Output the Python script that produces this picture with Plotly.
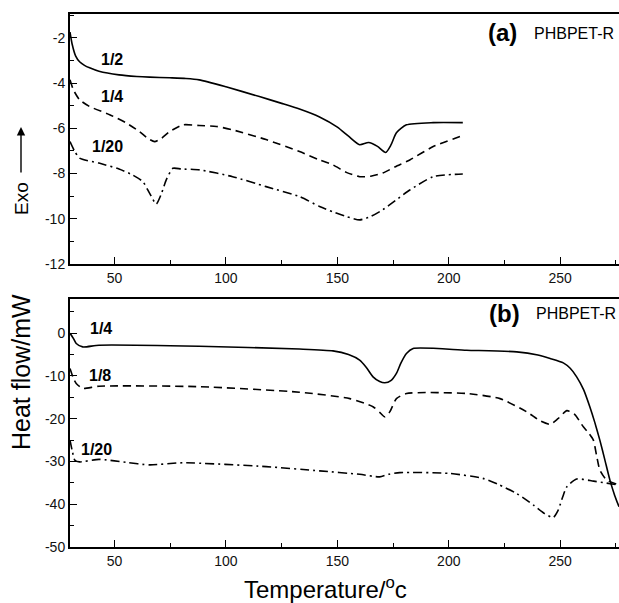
import plotly.graph_objects as go

# ---------------- data: panel (a) ----------------
a_x_12 = [30, 31, 32.5, 34.3, 36.5, 38.8, 43, 52, 60, 65.7, 74.7, 82, 88, 100, 115, 125, 133, 142, 150, 155, 160, 164, 168, 171.7, 174, 176.5, 181, 193, 206.3]
a_y_12 = [-1.75, -2.3, -2.8, -3.06, -3.22, -3.33, -3.48, -3.64, -3.71, -3.74, -3.77, -3.8, -3.86, -4.17, -4.6, -4.9, -5.15, -5.5, -5.95, -6.35, -6.73, -6.63, -6.8, -7.07, -6.75, -6.2, -5.85, -5.75, -5.75]
a_x_14 = [30, 31.5, 34.3, 38.8, 47.8, 55, 61.2, 65, 68, 71, 74.7, 80.7, 88, 95.7, 103, 118, 133, 142, 148, 154, 160, 165, 170.4, 176, 182.5, 193, 206.3]
a_y_14 = [-3.86, -4.3, -4.74, -5.04, -5.4, -5.75, -6.15, -6.45, -6.59, -6.45, -6.15, -5.85, -5.88, -5.92, -6.07, -6.5, -7.03, -7.4, -7.62, -7.95, -8.14, -8.12, -7.98, -7.7, -7.4, -6.81, -6.32]
a_x_120 = [30, 32, 34.3, 43, 52, 58, 62.7, 65.7, 68.7, 71, 73.2, 76.2, 80, 88.2, 103, 118, 133, 142, 148, 154, 160, 165, 170.4, 176, 182.5, 193, 206.3]
a_y_120 = [-6.59, -7.0, -7.32, -7.54, -7.8, -8.06, -8.36, -8.87, -9.35, -8.9, -8.28, -7.77, -7.8, -7.84, -8.14, -8.58, -9.02, -9.46, -9.69, -9.9, -10.05, -9.9, -9.6, -9.2, -8.73, -8.14, -8.02]

# ---------------- data: panel (b) ----------------
b_x_14 = [30, 31.5, 32.8, 35.7, 43, 88, 133, 148, 155, 160, 163, 166, 169, 171.3, 174, 176.5, 178.5, 181, 184, 208, 230.5, 240, 245.5, 251.4, 254.5, 257.4, 260.5, 263.3, 265.5, 267.8, 270, 272.3, 274.5, 276.4]
b_y_14 = [0, -1.2, -2.4, -3.2, -2.8, -3.04, -3.7, -4.13, -5.0, -6.3, -8.0, -10.2, -11.3, -11.6, -11.1, -9.4, -7.0, -4.75, -3.58, -3.97, -4.36, -5.1, -5.9, -6.93, -8.2, -10.2, -13.2, -17.2, -20.8, -25, -29.5, -34.3, -38, -40.6]
b_x_18 = [30, 31.5, 32.8, 35.7, 43, 88, 133, 155.6, 166, 169, 171.3, 173.5, 176.5, 181, 208, 223, 235, 241, 245.5, 249, 253, 256.5, 260.4, 263, 264.9, 266.3, 267.8, 270.8, 276.4]
b_y_18 = [-8.25, -10.5, -11.75, -12.9, -12.4, -12.5, -13.8, -15.3, -17.2, -18.5, -19.55, -18.4, -15.3, -14.1, -14.1, -15.3, -18.4, -20.5, -21.3, -20.0, -18.1, -19.0, -21.9, -23.5, -25, -28.5, -32, -34.3, -35.5]
b_x_120 = [30, 31, 32.2, 34.3, 43, 55, 65.7, 80.7, 118, 142, 160, 169, 173, 178, 200.5, 215.3, 222, 230.5, 238, 243, 246.9, 249, 251, 253, 257.4, 265, 270, 276.4]
b_y_120 = [-25, -27.5, -29.7, -30.1, -29.5, -30.2, -30.8, -30.3, -31.2, -32.2, -33.0, -33.6, -33.0, -32.6, -32.8, -33.95, -35.3, -37.5, -40.2, -42.2, -43.1, -41.5, -38.5, -35.9, -34.1, -34.6, -35.0, -35.5]

# ---------------- tick labels ----------------
x_ticks = [50, 100, 150, 200, 250]
x_tick_text = ["50", "100", "150", "200", "250"]
ya_ticks = [-12, -10, -8, -6, -4, -2]
ya_tick_text = ["-12", "-10", "-8", "-6", "-4", "-2"]
yb_ticks = [-50, -40, -30, -20, -10, 0]
yb_tick_text = ["-50", "-40", "-30", "-20", "-10", "0"]

font_family = "Liberation Sans, Arial, sans-serif"
LW = 1.6
DASH = "8px,5px"
DASHDOT = "9px,4px,2px,4px"

fig = go.Figure()
fig.add_trace(go.Scatter(x=a_x_12, y=a_y_12, mode="lines", line=dict(color="black", width=LW, shape="spline", smoothing=0.6), xaxis="x", yaxis="y", showlegend=False))
fig.add_trace(go.Scatter(x=a_x_14, y=a_y_14, mode="lines", line=dict(color="black", width=LW, dash=DASH, shape="spline", smoothing=0.6), xaxis="x", yaxis="y", showlegend=False))
fig.add_trace(go.Scatter(x=a_x_120, y=a_y_120, mode="lines", line=dict(color="black", width=LW, dash=DASHDOT, shape="spline", smoothing=0.6), xaxis="x", yaxis="y", showlegend=False))
fig.add_trace(go.Scatter(x=b_x_14, y=b_y_14, mode="lines", line=dict(color="black", width=LW, shape="spline", smoothing=0.6), xaxis="x2", yaxis="y2", showlegend=False))
fig.add_trace(go.Scatter(x=b_x_18, y=b_y_18, mode="lines", line=dict(color="black", width=LW, dash=DASH, shape="spline", smoothing=0.6), xaxis="x2", yaxis="y2", showlegend=False))
fig.add_trace(go.Scatter(x=b_x_120, y=b_y_120, mode="lines", line=dict(color="black", width=LW, dash=DASHDOT, shape="spline", smoothing=0.6), xaxis="x2", yaxis="y2", showlegend=False))

W, H = 619, 603
ML, MT, MB = 70, 14, 56
plot_h = H - MT - MB


def py(pix):
    return (H - MB - pix) / plot_h


def px(pix):
    return (pix - ML) / (W - ML)


xcommon = dict(range=[30, 276.4], tickvals=x_ticks, ticktext=x_tick_text, ticks="inside", ticklen=7, tickwidth=1.3,
               tickcolor="black", showline=True, linecolor="black", linewidth=2, mirror=True, showgrid=False,
               zeroline=False, tickfont=dict(size=14, color="#111", family=font_family),
               minor=dict(dtick=25, tick0=0, ticks="inside", ticklen=4, tickwidth=1.1, tickcolor="black"))
ycommon = dict(ticks="inside", ticklen=7, tickwidth=1.3, tickcolor="black", showline=True, linecolor="black",
               linewidth=2, mirror=False, showgrid=False, zeroline=False,
               tickfont=dict(size=14, color="#111", family=font_family))

fig.update_layout(
    width=W, height=H, plot_bgcolor="white", paper_bgcolor="white",
    margin=dict(l=ML, r=0, t=MT, b=MB, autoexpand=False),
    xaxis=dict(**xcommon, anchor="y", domain=[0, 1]),
    yaxis=dict(**ycommon, range=[-12, -0.95], tickvals=ya_ticks, ticktext=ya_tick_text,
               minor=dict(dtick=1, tick0=0, ticks="inside", ticklen=4, tickwidth=1.1, tickcolor="black"),
               domain=[py(264), 1], anchor="x"),
    xaxis2=dict(**xcommon, anchor="y2", domain=[0, 1]),
    yaxis2=dict(**ycommon, range=[-50, 8], tickvals=yb_ticks, ticktext=yb_tick_text,
                minor=dict(dtick=5, tick0=0, ticks="inside", ticklen=4, tickwidth=1.1, tickcolor="black"),
                domain=[0, py(299)], anchor="x2"),
)

bold = dict(size=16, color="black", family=font_family)
anns = [
    dict(x=48.7, y=-2.97, xref="x", yref="y", text="<b>1/2</b>", font=bold),
    dict(x=48.7, y=-4.61, xref="x", yref="y", text="<b>1/4</b>", font=bold),
    dict(x=46.9, y=-6.82, xref="x", yref="y", text="<b>1/20</b>", font=bold),
    dict(x=43.9, y=1.17, xref="x2", yref="y2", text="<b>1/4</b>", font=bold),
    dict(x=43.5, y=-10.0, xref="x2", yref="y2", text="<b>1/8</b>", font=bold),
    dict(x=41.9, y=-27.3, xref="x2", yref="y2", text="<b>1/20</b>", font=bold),
    dict(x=224.3, y=-1.78, xref="x", yref="y", text="<b>(a)</b>", font=dict(size=24, color="black", family=font_family)),
    dict(x=225.2, y=4.67, xref="x2", yref="y2", text="<b>(b)</b>", font=dict(size=24, color="black", family=font_family)),
    dict(x=px(532), y=py(33), xref="paper", yref="paper", xanchor="left", text="PHBPET-R",
         font=dict(size=16, color="black", family=font_family)),
    dict(x=px(534), y=py(313), xref="paper", yref="paper", xanchor="left", text="PHBPET-R",
         font=dict(size=16, color="black", family=font_family)),
    dict(x=px(325), y=py(588), xref="paper", yref="paper", text="Temperature/<sup>o</sup>c",
         font=dict(size=24, color="black", family=font_family)),
    dict(x=px(21), y=py(372), xref="paper", yref="paper", text="Heat flow/mW", textangle=-90,
         font=dict(size=25, color="black", family=font_family)),
    dict(x=px(21), y=py(199), xref="paper", yref="paper", text="Exo", textangle=-90,
         font=dict(size=19, color="black", family=font_family)),
]
for a in anns:
    a.setdefault("showarrow", False)
    a.setdefault("xanchor", "center")
    a.setdefault("yanchor", "middle")
anns.append(dict(x=px(21), y=py(127), xref="paper", yref="paper", ax=0, ay=47, axref="pixel", ayref="pixel",
                 text="", showarrow=True, arrowhead=2, arrowsize=1.2, arrowwidth=1.4, arrowcolor="black"))
fig.update_layout(annotations=anns)

fig.write_html("out.html", config={"displayModeBar": False},
               post_script="document.body.style.margin='0';document.body.style.overflow='hidden';")
